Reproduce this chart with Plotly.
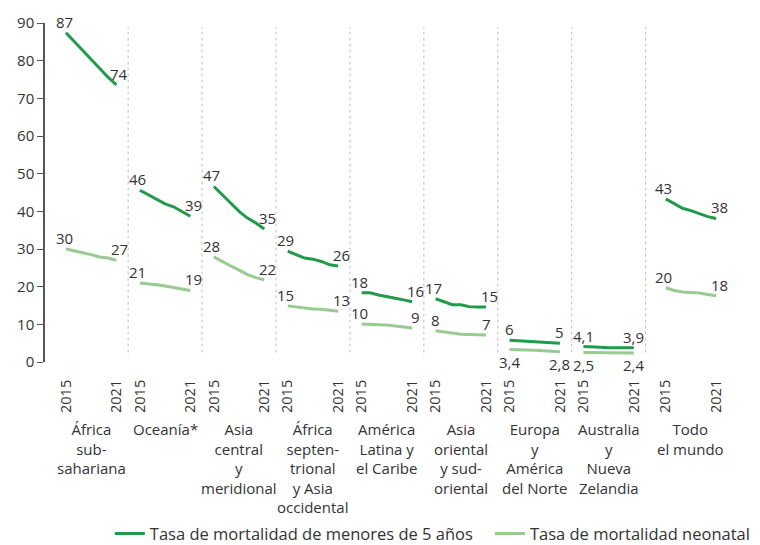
import plotly.graph_objects as go

# Data
years = [2015, 2016, 2017, 2018, 2019, 2020, 2021]
regions = [
    "África<br>sub-<br>sahariana",
    "Oceanía*",
    "Asia<br>central<br>y<br>meridional",
    "África<br>septen-<br>trional<br>y Asia<br>occidental",
    "América<br>Latina y<br>el Caribe",
    "Asia<br>oriental<br>y sud-<br>oriental",
    "Europa<br>y<br>América<br>del Norte",
    "Australia<br>y<br>Nueva<br>Zelandia",
    "Todo<br>el mundo",
]
u5 = [
    [87.4, 85.0, 82.6, 80.2, 77.9, 75.6, 73.6],
    [45.6, 44.4, 43.2, 42.0, 41.2, 40.0, 38.7],
    [46.6, 44.5, 42.2, 40.0, 38.2, 36.9, 35.3],
    [29.4, 28.6, 27.6, 27.3, 26.7, 25.8, 25.5],
    [18.4, 18.4, 17.8, 17.3, 16.9, 16.5, 16.0],
    [16.8, 16.0, 15.2, 15.2, 14.7, 14.6, 14.6],
    [5.8, 5.7, 5.5, 5.3, 5.2, 5.1, 5.0],
    [4.1, 4.1, 3.9, 3.8, 3.8, 3.8, 3.8],
    [43.3, 42.0, 40.8, 40.2, 39.3, 38.6, 38.1],
]
neo = [
    [30.0, 29.4, 29.0, 28.5, 27.9, 27.6, 27.0],
    [21.0, 20.8, 20.5, 20.2, 19.8, 19.3, 19.0],
    [27.9, 26.6, 25.5, 24.4, 23.2, 22.4, 21.8],
    [14.9, 14.6, 14.3, 14.1, 14.0, 13.8, 13.5],
    [10.1, 10.1, 9.9, 9.8, 9.6, 9.3, 9.0],
    [8.3, 8.0, 7.5, 7.4, 7.3, 7.2, 7.2],
    [3.3, 3.3, 3.2, 3.1, 3.0, 2.9, 2.7],
    [2.5, 2.5, 2.5, 2.5, 2.4, 2.4, 2.4],
    [19.7, 19.0, 18.6, 18.5, 18.3, 17.9, 17.6],
]
u5_labels = [("87", "74"), ("46", "39"), ("47", "35"), ("29", "26"), ("18", "16"),
             ("17", "15"), ("6", "5"), ("4,1", "3,9"), ("43", "38")]
neo_labels = [("30", "27"), ("21", "19"), ("28", "22"), ("15", "13"), ("10", "9"),
              ("8", "7"), ("3,4", "2,8"), ("2,5", "2,4"), ("20", "18")]
neo_below = [False] * 6 + [True, True, False]

DARK = "#219a49"
LIGHT = "#98cb90"
TEXT = "#333333"
FONT = "Open Sans"

# group offsets on a numeric x axis (one unit per year)
pitch = 8.8
starts = [i * pitch for i in range(8)] + [7 * pitch + 9.8]

fig = go.Figure()
ann = []
for i, name in enumerate(regions):
    xs = [starts[i] + (y - years[0]) for y in years]
    fig.add_trace(go.Scatter(x=xs, y=u5[i], mode="lines", line=dict(color=DARK, width=3),
                             name="Tasa de mortalidad de menores de 5 años",
                             legend="legend", legendgroup="u5", showlegend=(i == 0)))
    fig.add_trace(go.Scatter(x=xs, y=neo[i], mode="lines", line=dict(color=LIGHT, width=3),
                             name="Tasa de mortalidad neonatal",
                             legend="legend2", legendgroup="neo", showlegend=(i == 0)))
    for vals, labs, below in ((u5[i], u5_labels[i], False), (neo[i], neo_labels[i], neo_below[i])):
        small = vals[0] < 10
        for x, v, t, dx in ((xs[0], vals[0], labs[0], 0 if small else -2),
                            (xs[-1], vals[-1], labs[1], 0 if small else 3)):
            ann.append(dict(x=x, y=v, text=t, showarrow=False, xshift=dx,
                            yshift=0 if below else -1,
                            yanchor="top" if below else "bottom",
                            font=dict(size=15, color=TEXT, family=FONT)))
    ann.append(dict(x=(xs[0] + xs[-1]) / 2, y=-0.162, yref="paper", text=name,
                    showarrow=False, yanchor="top", align="center",
                    font=dict(size=15, color=TEXT, family=FONT)))
    if i > 0:
        d = starts[i - 1] + 7.4
        fig.add_shape(type="line", x0=d, x1=d, y0=2.5, y1=89,
                      line=dict(color="#c0c0c0", width=1, dash="dot"))

tickvals = []
ticktext = []
for s in starts:
    tickvals += [s, s + 6]
    ticktext += [str(years[0]), str(years[-1])]

leg = dict(orientation="h", y=-0.507, yanchor="middle", xanchor="left",
           font=dict(size=16.5, color=TEXT, family=FONT))

fig.update_layout(
    width=760, height=560,
    margin=dict(l=37, r=22, t=15, b=206),
    plot_bgcolor="white", paper_bgcolor="white",
    font=dict(family=FONT, size=15, color=TEXT),
    annotations=ann,
    legend=dict(leg, x=0.0936),
    legend2=dict(leg, x=0.642),
    xaxis=dict(range=[-2.5, 80], tickvals=tickvals, ticktext=ticktext, tickangle=-90,
               showgrid=False, zeroline=False, showline=False, automargin=False,
               ticks="outside", ticklen=11, tickcolor="rgba(0,0,0,0)",
               tickfont=dict(size=14.5, color=TEXT, family=FONT)),
    yaxis=dict(range=[0, 90], dtick=10, showgrid=False, zeroline=False, showline=True,
               automargin=False,
               linecolor="#555555", linewidth=1.5, ticks="outside", ticklen=6,
               tickcolor="#555555", tickfont=dict(size=15, color=TEXT, family=FONT)),
)

fig.write_html("out.html")
